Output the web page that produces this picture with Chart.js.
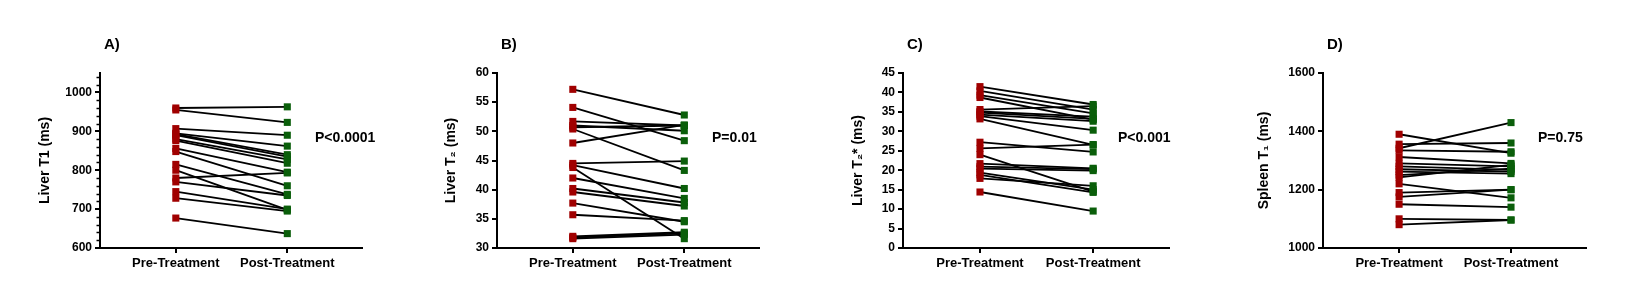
<!DOCTYPE html>
<html>
<head>
<meta charset="utf-8">
<script src="https://cdn.jsdelivr.net/npm/chart.js@4.4.1/dist/chart.umd.min.js"></script>
<style>
  body { margin: 0; background: #fff; }
  #wrap { position: relative; width: 1650px; height: 308px; overflow: hidden; }
  canvas { position: absolute; top: 0; }
</style>
</head>
<body>
<div id="wrap">
  <canvas id="chartA" width="400" height="308" style="left:0px"></canvas>
  <canvas id="chartB" width="400" height="308" style="left:397px"></canvas>
  <canvas id="chartC" width="400" height="308" style="left:803px"></canvas>
  <canvas id="chartD" width="400" height="308" style="left:1223px"></canvas>
</div>
<script>
const groups = ['Pre-Treatment', 'Post-Treatment'];

// A) liver T1
const liverT1Pre  = [960, 955, 907, 895, 893, 890, 880, 876, 856, 848, 815, 800, 780, 770, 745, 728, 677];
const liverT1Post = [963, 923, 890, 862, 840, 835, 828, 818, 795, 760, 738, 698, 793, 735, 700, 695, 637];

// B) liver T2
const liverT2Pre  = [57.2, 54.1, 51.7, 51.0, 50.7, 50.4, 48.0, 44.5, 44.2, 43.8, 42.0, 40.2, 39.6, 37.7, 35.7, 32.0, 31.8, 31.6];
const liverT2Post = [52.8, 48.4, 51.0, 50.1, 51.0, 43.3, 51.1, 44.9, 40.2, 31.6, 38.5, 37.8, 37.2, 34.5, 34.7, 32.7, 32.5, 32.3];

// C) liver T2*
const liverT2sPre  = [41.5, 40.4, 39.3, 38.7, 35.6, 35.1, 34.8, 34.3, 33.9, 33.2, 27.2, 25.6, 24.0, 21.7, 20.9, 20.4, 19.4, 18.8, 17.9, 14.4];
const liverT2sPost = [36.9, 35.6, 34.6, 33.0, 36.5, 33.8, 33.2, 32.6, 30.3, 26.5, 24.7, 26.6, 14.5, 20.5, 20.3, 19.9, 15.0, 14.3, 16.0, 9.5];

// D) spleen T1
const spleenT1Pre  = [1390, 1342, 1356, 1335, 1312, 1290, 1280, 1270, 1262, 1250, 1242, 1220, 1190, 1175, 1150, 1100, 1080];
const spleenT1Post = [1325, 1430, 1360, 1330, 1290, 1280, 1268, 1262, 1255, 1272, 1285, 1172, 1200, 1200, 1140, 1096, 1096];

const panelLabels = ['A)', 'B)', 'C)', 'D)'];
const pValues = ['P<0.0001', 'P=0.01', 'P<0.001', 'P=0.75'];
const yTitles = ['Liver T1 (ms)', 'Liver T\u2082 (ms)', 'Liver T\u2082* (ms)', 'Spleen T\u2081 (ms)'];

const RED = '#a00000';
const GREEN = '#0a5e0a';
const FONT = 'Arial, "Liberation Sans", sans-serif';

// draws panel letter, p value and minor ticks
const annotate = {
  id: 'annotate',
  afterDraw(chart, args, opts) {
    const ctx = chart.ctx;
    ctx.save();
    ctx.fillStyle = '#000';
    ctx.textBaseline = 'middle';
    ctx.textAlign = 'left';
    ctx.font = 'bold 15px ' + FONT;
    ctx.fillText(opts.label, 104, 45);
    ctx.font = 'bold 14px ' + FONT;
    ctx.fillText(opts.p, 315, 138);
    if (opts.minorStep) {
      const y = chart.scales.y;
      ctx.strokeStyle = '#000';
      ctx.lineWidth = 1.5;
      for (let v = y.min; v <= y.max; v += opts.minorStep) {
        if (v % opts.majorStep === 0) continue;
        const py = Math.round(y.getPixelForValue(v)) + 0.5;
        ctx.beginPath();
        ctx.moveTo(chart.chartArea.left - 3.5, py);
        ctx.lineTo(chart.chartArea.left, py);
        ctx.stroke();
      }
    }
    ctx.restore();
  }
};

function makePanel(id, idx, pre, post, yMin, yMax, step, rightPad, titlePad, minorStep) {
  const datasets = [];
  pre.forEach((v, i) => {
    datasets.push({
      data: [{ x: 0, y: v }, { x: 1, y: post[i] }],
      showLine: true,
      borderColor: '#000',
      borderWidth: 1.8,
      pointRadius: 0,
      order: 2
    });
  });
  datasets.push({
    data: pre.map(v => ({ x: 0, y: v })),
    pointStyle: 'rect', pointRadius: 5, backgroundColor: RED, borderWidth: 0, order: 1
  });
  datasets.push({
    data: post.map(v => ({ x: 1, y: v })),
    pointStyle: 'rect', pointRadius: 5, backgroundColor: GREEN, borderWidth: 0, order: 1
  });

  const ctx = document.getElementById(id).getContext('2d');
  return new Chart(ctx, {
    type: 'scatter',
    data: { datasets: datasets },
    options: {
      responsive: false,
      animation: false,
      devicePixelRatio: 1,
      layout: { padding: { top: 73, right: rightPad, left: 0, bottom: 0 } },
      plugins: {
        legend: { display: false },
        tooltip: { enabled: false },
        annotate: { label: panelLabels[idx], p: pValues[idx], minorStep: minorStep, majorStep: step }
      },
      scales: {
        x: {
          type: 'linear',
          min: -0.68,
          max: 1.67,
          afterFit(scale) { scale.height = 60; },
          afterBuildTicks(scale) { scale.ticks = [{ value: 0 }, { value: 1 }]; },
          ticks: {
            color: '#000',
            font: { family: FONT, size: 13, weight: 'bold' },
            padding: 3,
            maxRotation: 0,
            callback: v => groups[v]
          },
          grid: { drawOnChartArea: false, drawTicks: true, tickLength: 5, color: '#000', lineWidth: 2 },
          border: { display: true, color: '#000', width: 2 }
        },
        y: {
          min: yMin,
          max: yMax,
          afterFit(scale) { scale.width = 100; },
          afterBuildTicks(scale) { scale.ticks = scale.ticks.filter(t => (t.value - yMin) % step === 0); },
          ticks: {
            stepSize: step,
            color: '#000',
            font: { family: FONT, size: 12, weight: 'bold' },
            padding: 3,
            callback: v => String(v)
          },
          title: {
            display: true,
            text: yTitles[idx],
            color: '#000',
            font: { family: FONT, size: 14, weight: 'bold' },
            padding: { top: titlePad, bottom: 0 }
          },
          grid: { drawOnChartArea: false, drawTicks: true, tickLength: 5, color: '#000', lineWidth: 2 },
          border: { display: true, color: '#000', width: 2 }
        }
      }
    },
    plugins: [annotate]
  });
}

makePanel('chartA', 0, liverT1Pre, liverT1Post, 600, 1050, 100, 38, 36.5, 20);
makePanel('chartB', 1, liverT2Pre, liverT2Post, 30, 60, 5, 38, 46, 0);
makePanel('chartC', 2, liverT2sPre, liverT2sPost, 0, 45, 5, 34, 47, 0);
makePanel('chartD', 3, spleenT1Pre, spleenT1Post, 1000, 1600, 200, 37, 33, 0);
</script>
</body>
</html>
